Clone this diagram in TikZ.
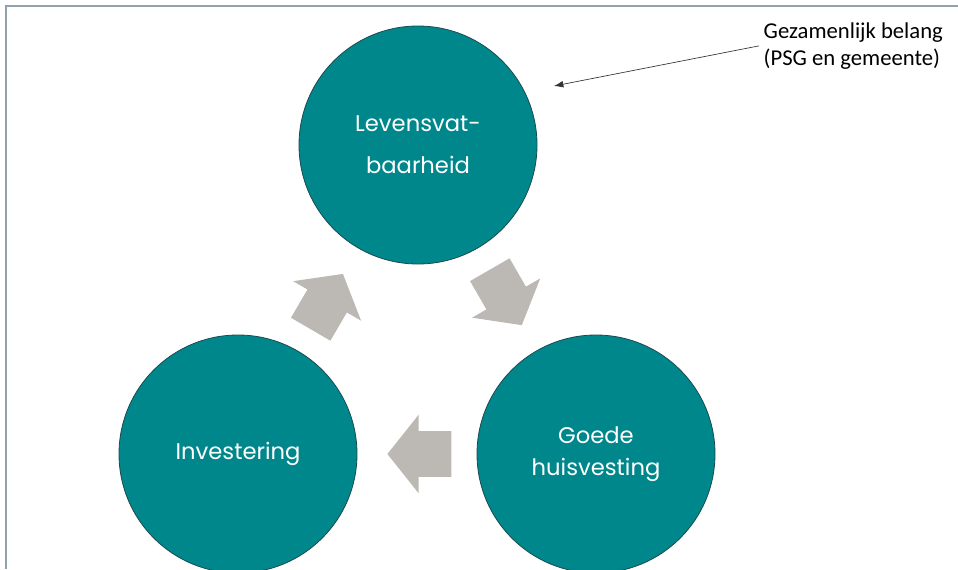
\documentclass[tikz,border=0pt]{standalone}
\usepackage{fontspec}
\usepackage{tikz}
\usepackage{xcolor}
\usetikzlibrary{shapes.arrows,arrows.meta}
\newfontfamily\poppins{Poppins}
\newfontfamily\carlito{Carlito}
\definecolor{teal-fill}{RGB}{0,135,140}
\definecolor{teal-line}{RGB}{25,75,80}
\definecolor{arrow-gray}{RGB}{188,184,179}
\definecolor{frame-blue}{RGB}{143,162,173}
\tikzset{
    teal-circle/.style = {circle, fill=teal-fill, draw=teal-line, line width=0.6pt, minimum size=178.5pt, inner sep=0pt, text=white, align=center, font=\poppins\fontsize{17}{23.5}\selectfont},
    block-arrow/.style = {single arrow, fill=arrow-gray, draw=none, minimum height=48pt, inner xsep=0pt, inner ysep=16.9pt, single arrow head extend=12.4pt, single arrow tip angle=103, sloped, allow upside down, xshift=-8.6pt},
    note-text/.style = {align=left, font=\carlito\fontsize{17}{20}\selectfont, anchor=north west},
}
\begin{document}
\begin{tikzpicture}[x=0.75pt,y=-0.75pt]
\useasboundingbox (0,0) rectangle (958,569);
\draw[frame-blue, line width=1.5pt] (6,569) -- (6,6) -- (958,6);
\node[teal-circle] (lev) at (418,145) {Levensvat-\\[8pt]baarheid};
\node[teal-circle] (goede) at (596,454) {Goede\\huisvesting};
\node[teal-circle] (inv) at (238,454) {Investering};
\path (inv) -- node[block-arrow] (arr-up) {} (lev);
\path (lev) -- node[block-arrow] (arr-down) {} (goede);
\path (goede) -- node[block-arrow] (arr-left) {} (inv);
\node[note-text] (note) at (759,18) {Gezamenlijk belang\\(PSG en gemeente)};
\coordinate (note-tip) at (554,86);
\draw[-{Latex[length=7pt,width=5pt]}, line width=0.5pt, black!80] (note.west) -- (note-tip);
\end{tikzpicture}
\end{document}
